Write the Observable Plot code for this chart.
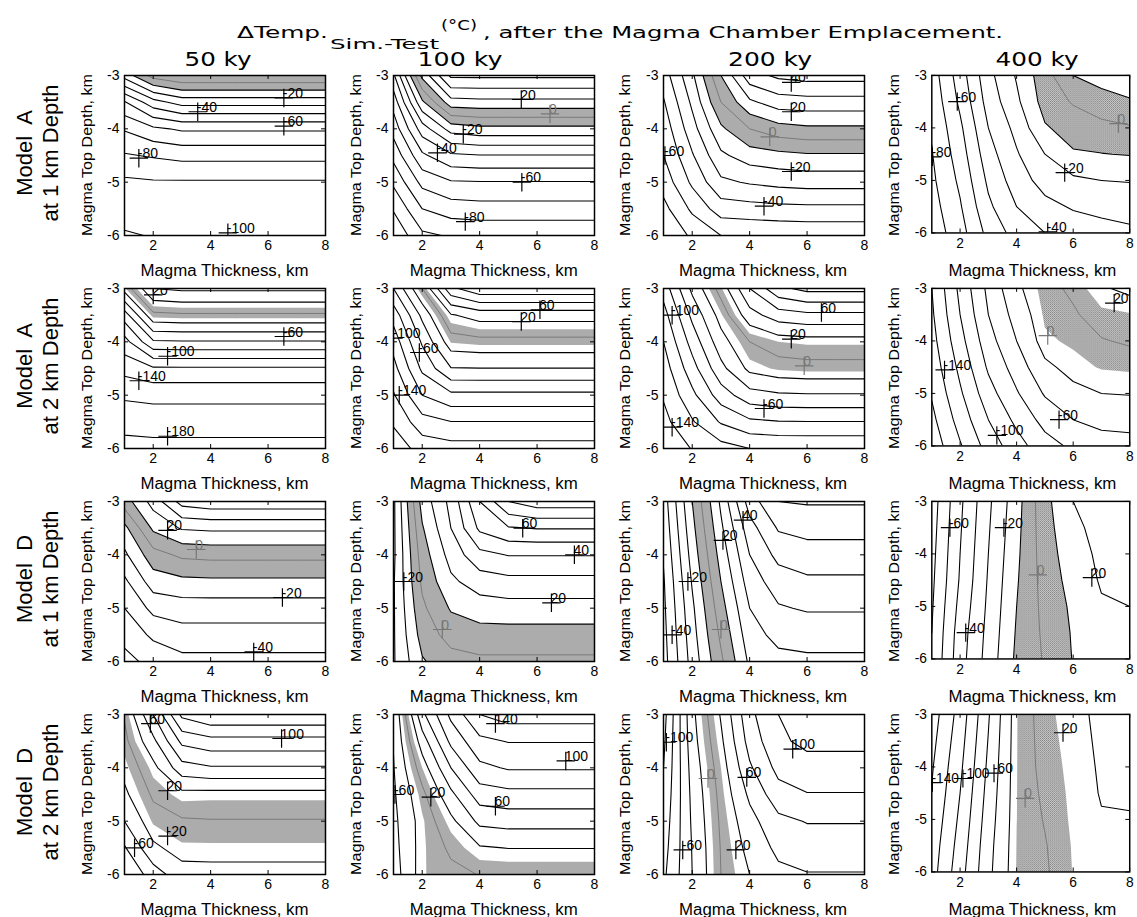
<!DOCTYPE html>
<html><head><meta charset="utf-8">
<script src="https://cdn.jsdelivr.net/npm/d3@7"></script>
<script src="https://cdn.jsdelivr.net/npm/@observablehq/plot@0.6"></script>
<style>
body{margin:0;background:#fff;}
#wrap{position:relative;width:1137px;height:917px;overflow:hidden;background:#fff;}
.pn{position:absolute;}
#ov{position:absolute;left:0;top:0;pointer-events:none;}
</style></head><body>
<svg width="0" height="0" style="position:absolute"><defs>
<pattern id="dith" width="2" height="2" patternUnits="userSpaceOnUse">
<rect width="2" height="2" fill="#cccccc"/><rect width="1" height="1" fill="#808080"/><rect x="1" y="1" width="1" height="1" fill="#969696"/>
</pattern></defs></svg>
<div id="wrap"></div>
<script>
// ---- grid axes (km) ----
const thickness = [1, 2, 3, 4, 5, 6, 7, 8];
const topDepth = [-3, -3.5, -4, -4.5, -5, -5.5, -6];
const xTicks = [2, 4, 6, 8];
const yTicks = [-3, -4, -5, -6];
const ageLabels = ["50 ky", "100 ky", "200 ky", "400 ky"];
const modelLabels = ["Model  A", "Model  A", "Model  D", "Model  D"];
const depthLabels = ["at 1 km Depth", "at 2 km Depth", "at 1 km Depth", "at 2 km Depth"];
const contourStep = [10, 20, 10, 20];

// ---- ΔTemp (°C): rows = top depth -3..-6, columns = thickness 1..8 ----
const dT_A1_50 = [
 [-16, 4, 9.5, 9.5, 9.5, 9.5, 9.5, 9.5],
 [-51, -34, -26, -26, -26, -26, -26, -26],
 [-69, -62, -58.5, -58.5, -58.5, -58.5, -58.5, -58.5],
 [-81, -79, -77, -77, -77, -77, -77, -77],
 [-92, -91, -91, -91, -91, -91, -91, -91],
 [-96, -95.5, -95, -95, -95, -95, -95, -95],
 [-101, -99.5, -99.5, -99.5, -99.5, -99.5, -99.5, -99.5]];
const dT_A1_100 = [
 [-42, 13, 42, 42, 42, 42, 42, 42],
 [-56, -12, 16, 17, 17, 17, 17, 17],
 [-66, -35, -16, -13, -13, -13, -13, -13],
 [-77, -52, -42, -40.5, -40.5, -40.5, -40.5, -40.5],
 [-88, -67, -61, -60.5, -60.5, -60.5, -60.5, -60.5],
 [-99, -80, -75, -74, -74, -74, -74, -74],
 [-108, -92, -89, -88, -88, -88, -88, -88]];
const dT_A1_200 = [
 [-45, -22, 10, 36, 42, 44, 44, 44],
 [-51, -28, 0, 18, 25, 26, 26, 26],
 [-56, -34, -12, 0, 6, 8, 8, 8],
 [-60, -41, -22, -15, -13, -11.5, -11.5, -11.5],
 [-66, -48, -32, -29, -27, -26, -26, -26],
 [-73, -58, -45, -44, -43, -42.5, -42.5, -42.5],
 [-80, -68, -60, -59, -58.5, -58, -58, -58]];
const dT_A1_400 = [
 [-75, -55, -33, -19, -4, 10, 14, 16],
 [-77, -58, -36, -22, -6, 1, 6, 9],
 [-79, -62, -40, -27, -11, -6, -3, -1],
 [-80.5, -65, -44, -31, -20, -11, -10.3, -9.5],
 [-82, -68, -48, -35, -26, -22, -20, -19.5],
 [-84, -71, -52, -40, -33, -29, -27, -26],
 [-86, -74, -57, -46, -40, -36, -34, -32]];
const dT_A2_50 = [
 [-12, 40, 44, 44, 44, 44, 44, 44],
 [-70, -5, -3, -3, -3, -3, -3, -3],
 [-108, -63, -62, -62, -62, -62, -62, -62],
 [-133, -123, -123, -123, -123, -123, -123, -123],
 [-157, -155, -155, -155, -155, -155, -155, -155],
 [-172, -170, -170, -170, -170, -170, -170, -170],
 [-188, -187, -187, -187, -187, -187, -187, -187]];
const dT_A2_100 = [
 [-60, 0, 75, 95, 95, 95, 95, 95],
 [-92, -35, 18, 28, 28, 28, 28, 28],
 [-112, -57, -9, -6, -6, -6, -6, -6],
 [-127, -76, -41, -40.5, -40.5, -40.5, -40.5, -40.5],
 [-142, -100, -85, -85, -85, -85, -85, -85],
 [-157, -128, -120.5, -120.5, -120.5, -120.5, -120.5, -120.5],
 [-172, -152, -148, -148, -148, -148, -148, -148]];
const dT_A2_200 = [
 [-92, -35, 8, 60, 95, 106, 106, 106],
 [-108, -55, -12, 32, 50, 55, 55, 55],
 [-120, -72, -28, 0, 10, 12, 12, 12],
 [-130, -88, -46, -15, -8, -6, -6, -6],
 [-138, -105, -70, -48, -43, -42, -42, -42],
 [-146, -122, -98, -84, -81, -80.5, -80.5, -80.5],
 [-155, -139, -128, -120, -118, -118, -118, -118]];
const dT_A2_400 = [
 [-140, -95, -55, -24, -5, 3, 18, 24],
 [-143, -100, -60, -32, -8, -2, 7, 9],
 [-147, -107, -68, -40, -12, -8, -1, 2],
 [-152, -115, -77, -51, -24, -14, -9, -8],
 [-158, -123, -88, -62, -38, -25, -20, -19],
 [-165, -132, -100, -75, -53, -40, -34, -33],
 [-172, -142, -112, -88, -68, -56, -49, -47]];
const dT_D1_50 = [
 [5, 24, 44, 47, 47, 47, 47, 47],
 [-13, 12, 21, 22, 22, 22, 22, 22],
 [-22, -4, 2, 3, 3, 3, 3, 3],
 [-32, -15, -12.5, -12, -12, -12, -12, -12],
 [-40, -27, -25, -25, -25, -25, -25, -25],
 [-47, -38, -34, -34, -34, -34, -34, -34],
 [-53, -47, -43, -43, -43, -43, -43, -43]];
const dT_D1_100 = [
 [-32, 14, 33, 60, 80, 86, 86, 86],
 [-32, 9, 30, 52, 59, 60.5, 60.5, 60.5],
 [-32, 5, 24, 37, 40.5, 40.5, 40.5, 40.5],
 [-31, 2, 18, 25, 27, 27, 27, 27],
 [-31, -2, 11, 15, 16, 16, 16, 16],
 [-31, -6, 4, 6, 6, 6, 6, 6],
 [-31, -11, -4, -2, -2, -2, -2, -2]];
const dT_D1_200 = [
 [-45, -10, 22, 55, 70, 71, 71, 71],
 [-47, -13, 18, 46, 61, 63, 63, 63],
 [-49, -16, 14, 40, 53, 56, 56, 56],
 [-51, -19, 10, 35, 45, 48, 48, 48],
 [-52, -22, 6, 30, 39, 41, 41, 41],
 [-53, -24, 2, 26, 33, 34, 34, 34],
 [-54, -26, -2, 22, 27, 28, 28, 28]];
const dT_D1_400 = [
 [-75, -52, -32, -14, 7, 20, 24, 26],
 [-74, -51, -31, -13, 6, 18, 23, 25],
 [-73, -50, -30, -12, 5, 16, 22, 24],
 [-72, -49, -29, -11, 4, 14, 21, 22],
 [-71, -47, -28, -10, 3, 12, 19, 20],
 [-70, -45, -27, -9, 2, 11, 17, 18],
 [-69, -44, -26, -8, 1, 10.5, 16, 17]];
const dT_D2_50 = [
 [2, 60, 125, 138, 138, 138, 138, 138],
 [-5, 35, 85, 93, 93, 93, 93, 93],
 [-14, 14, 52, 58, 58, 58, 58, 58],
 [-24, 3, 14, 13, 13, 13, 13, 13],
 [-40, -8, -2, -1, -1, -1, -1, -1],
 [-62, -24, -12, -12, -12, -12, -12, -12],
 [-80, -50, -28, -27, -27, -27, -27, -27]];
const dT_D2_100 = [
 [-38, 55, 105, 140, 150, 150, 150, 150],
 [-39, 30, 85, 115, 121, 121, 121, 121],
 [-41, 10, 60, 95, 102, 102, 102, 102],
 [-43, -5, 35, 70, 74, 74, 74, 74],
 [-45, -12, 15, 45, 48, 48, 48, 48],
 [-47, -12, 3, 18, 20.5, 20.5, 20.5, 20.5],
 [-50, -11, -4, 0.5, 0.5, 0.5, 0.5, 0.5]];
const dT_D2_200 = [
 [-108, -25, 22, 75, 100, 120, 120, 120],
 [-104, -28, 16, 68, 96, 105, 105, 105],
 [-100, -32, 10, 57, 86, 92, 92, 92],
 [-96, -35, 6, 44, 72, 79, 79, 79],
 [-92, -37, 3, 33, 55, 61, 61, 61],
 [-88, -39, 1, 26, 45, 50, 50, 50],
 [-84, -40, 0, 20, 35, 39, 39, 39]];
const dT_D2_400 = [
 [-150, -112, -62, -10.5, 7, 15, 24, 26],
 [-146, -108, -59, -10.4, 6, 14, 23, 25],
 [-142, -104, -56, -10.3, 5, 13, 22, 24],
 [-139, -100, -53, -10.2, 3, 12.5, 21, 22],
 [-135, -96, -50, -10.1, 1, 12, 19, 19],
 [-131, -92, -47, -9.7, -1, 11, 17, 17],
 [-128, -88, -45, -9.3, -2, 10.5, 16, 16]];

// ---- contour labels: [thickness, top depth, text] ----
const lab_A1_50 = [[3.55, -3.68, "-40"], [6.55, -3.95, "-60"], [1.5, -4.55, "-80"], [4.6, -5.95, "-100"], [6.55, -3.42, "-20"]];
const lab_A1_100 = [[5.45, -3.45, "20"], [6.45, -3.72, "0"], [3.43, -4.1, "-20"], [2.53, -4.45, "-40"], [5.47, -5.0, "-60"], [3.5, -5.74, "-80"]];
const lab_A1_200 = [[5.45, -3.13, "40"], [5.45, -3.68, "20"], [4.7, -4.15, "0"], [5.45, -4.8, "-20"], [4.5, -5.45, "-40"], [1.05, -4.5, "-60"]];
const lab_A1_400 = [[1.9, -3.5, "-60"], [1.02, -4.55, "-80"], [7.6, -3.92, "0"], [5.7, -4.85, "-20"], [5.1, -5.98, "-40"]];
const lab_A2_50 = [[2.0, -3.12, "20"], [6.55, -3.9, "-60"], [2.5, -4.27, "-100"], [1.5, -4.73, "-140"], [2.5, -5.77, "-180"]];
const lab_A2_100 = [[6.1, -3.4, "60"], [5.45, -3.62, "20"], [1.0, -3.93, "-100"], [1.9, -4.2, "-60"], [1.2, -5.0, "-140"]];
const lab_A2_200 = [[1.3, -3.5, "-100"], [6.5, -3.45, "60"], [5.45, -3.95, "20"], [5.9, -4.45, "0"], [4.5, -5.25, "-60"], [1.3, -5.6, "-140"]];
const lab_A2_400 = [[1.45, -4.55, "-140"], [3.3, -5.8, "-100"], [5.5, -5.5, "-60"], [7.45, -3.28, "20"], [5.1, -3.9, "0"]];
const lab_D1_50 = [[2.5, -3.54, "20"], [3.5, -3.9, "0"], [6.5, -4.8, "-20"], [5.5, -5.82, "-40"]];
const lab_D1_100 = [[5.5, -3.5, "60"], [7.3, -4.0, "40"], [6.5, -4.9, "20"], [1.36, -4.5, "-20"], [2.7, -5.4, "0"]];
const lab_D1_200 = [[3.77, -3.35, "40"], [3.07, -3.73, "20"], [1.85, -4.5, "-20"], [1.3, -5.5, "-40"], [3.0, -5.4, "0"]];
const lab_D1_400 = [[1.64, -3.5, "-60"], [3.55, -3.5, "-20"], [2.2, -5.5, "-40"], [6.66, -4.45, "20"], [4.75, -4.4, "0"]];
const lab_D2_50 = [[1.9, -3.17, "60"], [6.47, -3.45, "100"], [2.5, -4.43, "20"], [2.5, -5.28, "-20"], [1.35, -5.5, "-60"]];
const lab_D2_100 = [[4.55, -3.17, "140"], [7.0, -3.87, "100"], [4.55, -4.72, "60"], [1.05, -4.5, "-60"], [2.3, -4.55, "20"]];
const lab_D2_200 = [[1.1, -3.52, "-100"], [1.67, -5.54, "-60"], [3.52, -5.54, "20"], [3.9, -4.18, "60"], [5.5, -3.65, "100"], [2.55, -4.2, "0"]];
const lab_D2_400 = [[1.02, -4.3, "-140"], [2.1, -4.22, "-100"], [3.2, -4.12, "-60"], [5.64, -3.35, "20"], [4.3, -4.6, "0"]];

const grids = [
  [dT_A1_50, dT_A1_100, dT_A1_200, dT_A1_400],
  [dT_A2_50, dT_A2_100, dT_A2_200, dT_A2_400],
  [dT_D1_50, dT_D1_100, dT_D1_200, dT_D1_400],
  [dT_D2_50, dT_D2_100, dT_D2_200, dT_D2_400]];
const labelSets = [
  [lab_A1_50, lab_A1_100, lab_A1_200, lab_A1_400],
  [lab_A2_50, lab_A2_100, lab_A2_200, lab_A2_400],
  [lab_D1_50, lab_D1_100, lab_D1_200, lab_D1_400],
  [lab_D2_50, lab_D2_100, lab_D2_200, lab_D2_400]];

// ---- layout ----
const FW = 201, FH = 160;
const ML = 44, MR = 8, MT = 6, MB = 24;
const frameLeft = c => 124 + c * 269.3;
const frameTop = r => 75 + r * 213;
const FONT = "'Liberation Sans', Arial, sans-serif";

function panel(grid, labels, step) {
  const values = grid.flat();
  const dx = thickness[1] - thickness[0], dy = topDepth[1] - topDepth[0];
  const g = {
    width: thickness.length, height: topDepth.length,
    x1: thickness[0] - dx / 2, x2: thickness[thickness.length - 1] + dx / 2,
    y1: topDepth[0] - dy / 2, y2: topDepth[topDepth.length - 1] + dy / 2,
    value: d => d, clip: true
  };
  const eps = 1e-3;
  const levels = d3.range(-300, 301, step).filter(v => v !== 0).map(v => v + eps);
  const blackLab = labels.filter(d => d[2] !== "0");
  const grayLab = labels.filter(d => d[2] === "0");
  const txtOpts = {x: d => d[0], y: d => d[1], text: d => d[2], textAnchor: "start", lineAnchor: "bottom", dx: -1, dy: 0, fontSize: 14, clip: true};
  return Plot.plot({
    width: FW + ML + MR, height: FH + MT + MB,
    marginLeft: ML, marginRight: MR, marginTop: MT, marginBottom: MB,
    x: {domain: [1, 8], label: null},
    y: {domain: [-6, -3], label: null},
    style: {fontFamily: FONT, fontSize: "14px", color: "black", background: "none", overflow: "visible"},
    marks: [
      Plot.contour(values, {...g, thresholds: [-10 + eps], fill: "url(#dith)", stroke: "none"}),
      Plot.contour(values, {...g, thresholds: [10 + eps], fill: "white", stroke: "none"}),
      Plot.contour(values, {...g, thresholds: [eps], fill: "none", stroke: "#7a7a7a", strokeWidth: 1}),
      Plot.contour(values, {...g, thresholds: levels, fill: "none", stroke: "black", strokeWidth: 1.1}),
      Plot.ruleX(xTicks, {x: d => d, insetTop: FH - 4}),
      Plot.ruleX(xTicks, {x: d => d, insetBottom: FH - 4}),
      Plot.ruleY(yTicks, {y: d => d, insetRight: FW - 4}),
      Plot.ruleY(yTicks, {y: d => d, insetLeft: FW - 4}),
      Plot.dot(blackLab, {x: d => d[0], y: d => d[1], symbol: "plus", r: 6, stroke: "black", strokeWidth: 1.2, clip: true}),
      Plot.dot(grayLab, {x: d => d[0], y: d => d[1], symbol: "plus", r: 6, stroke: "#777", strokeWidth: 1.2, clip: true}),
      Plot.text(blackLab, {...txtOpts, fill: "black"}),
      Plot.text(grayLab, {...txtOpts, fill: "#777"}),
      Plot.frame({stroke: "black", strokeWidth: 1.5}),
      Plot.axisX(xTicks, {tickSize: 0, tickPadding: 5, tickFormat: d => String(d)}),
      Plot.axisY(yTicks, {tickSize: 0, tickPadding: 5, tickFormat: d => String(d)})
    ]
  });
}

const wrap = document.getElementById("wrap");
for (let r = 0; r < 4; r++) {
  for (let c = 0; c < 4; c++) {
    const div = document.createElement("div");
    div.className = "pn";
    div.style.left = (frameLeft(c) - ML) + "px";
    div.style.top = (frameTop(r) - MT) + "px";
    div.appendChild(panel(grids[r][c], labelSets[r][c], contourStep[r]));
    wrap.appendChild(div);
  }
}

// ---- overlay texts ----
const NS = "http://www.w3.org/2000/svg";
const ov = document.createElementNS(NS, "svg");
ov.setAttribute("id", "ov"); ov.setAttribute("width", 1137); ov.setAttribute("height", 917);
function txt(str, attrs) {
  const t = document.createElementNS(NS, "text");
  for (const k in attrs) t.setAttribute(k, attrs[k]);
  t.textContent = str;
  ov.appendChild(t);
  return t;
}
const TFONT = "'DejaVu Sans', Verdana, sans-serif";
txt("\u0394Temp.", {x: 237, y: 38, "font-family": TFONT, "font-size": 16, textLength: 91, lengthAdjust: "spacingAndGlyphs"});
txt("Sim.-Test", {x: 330, y: 49, "font-family": TFONT, "font-size": 14, textLength: 109, lengthAdjust: "spacingAndGlyphs"});
txt("(\u00B0C)", {x: 441, y: 30, "font-family": TFONT, "font-size": 14, textLength: 36, lengthAdjust: "spacingAndGlyphs"});
txt(", after the Magma Chamber Emplacement.", {x: 483, y: 38, "font-family": TFONT, "font-size": 16, textLength: 520, lengthAdjust: "spacingAndGlyphs"});
const headX = [218, 460, 770, 1037], headW = [67, 85, 84, 83];
ageLabels.forEach((s, c) => txt(s, {x: headX[c], y: 66, "text-anchor": "middle", "font-family": TFONT, "font-size": 20, textLength: headW[c], lengthAdjust: "spacingAndGlyphs"}));
for (let r = 0; r < 4; r++) {
  const cy = frameTop(r) + 78;
  txt(modelLabels[r], {transform: `translate(24,${cy}) rotate(-90)`, "text-anchor": "middle", "dominant-baseline": "central", "font-family": FONT, "font-size": 22, style: "white-space:pre"});
  txt(depthLabels[r], {transform: `translate(50,${cy}) rotate(-90)`, "text-anchor": "middle", "dominant-baseline": "central", "font-family": FONT, "font-size": 22});
  for (let c = 0; c < 4; c++) {
    const fl = frameLeft(c), ft = frameTop(r);
    txt("Magma Thickness, km", {x: fl + FW / 2, y: ft + FH + 35, "text-anchor": "middle", "dominant-baseline": "central", "font-family": FONT, "font-size": 16, textLength: 168, lengthAdjust: "spacingAndGlyphs"});
    txt("Magma Top Depth, km", {transform: `translate(${fl - 38},${ft + FH / 2}) rotate(-90)`, "text-anchor": "middle", "dominant-baseline": "central", "font-family": FONT, "font-size": 15, textLength: 162, lengthAdjust: "spacingAndGlyphs"});
  }
}
wrap.appendChild(ov);
</script>
</body></html>
